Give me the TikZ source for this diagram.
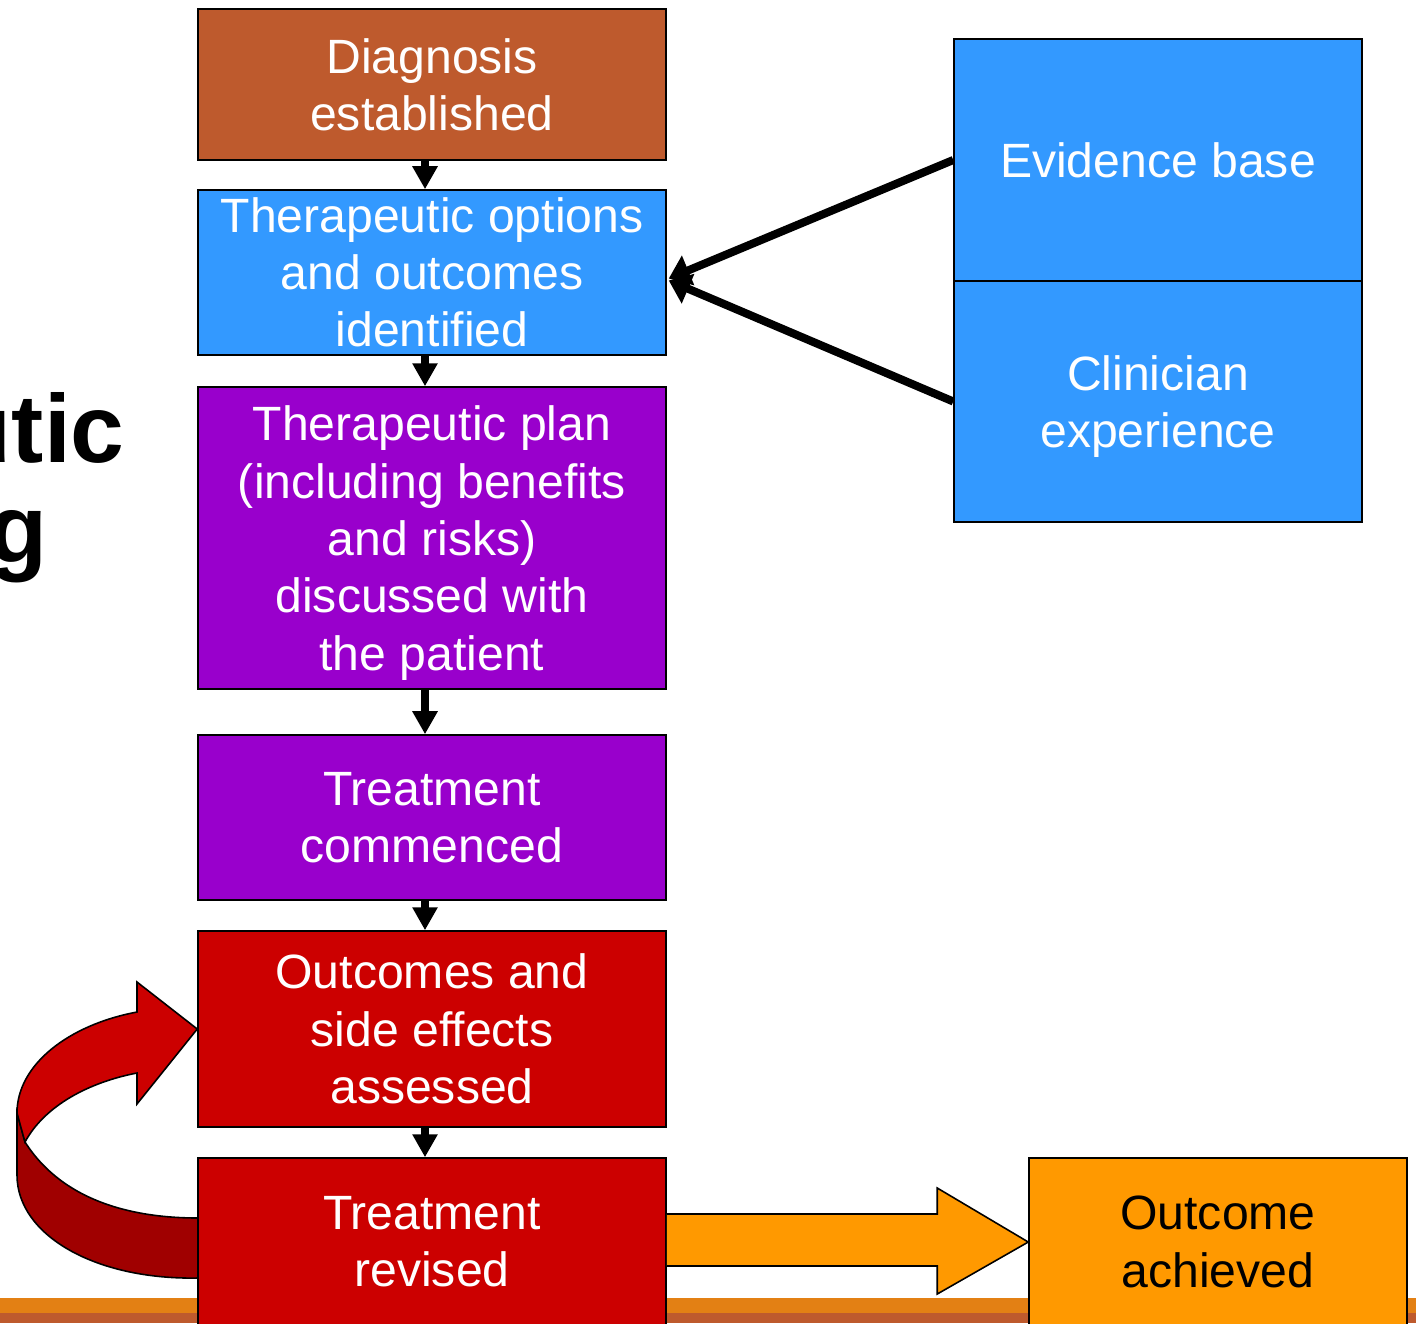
\documentclass[tikz,border=0pt]{standalone}
\usepackage{fontspec}
\setmainfont{Liberation Sans}
\usetikzlibrary{arrows.meta, positioning, calc}
\definecolor{diagcol}{RGB}{190,90,45}
\definecolor{bluecol}{RGB}{51,153,255}
\definecolor{purplecol}{RGB}{153,0,204}
\definecolor{redcol}{RGB}{204,0,0}
\definecolor{darkredcol}{RGB}{160,0,0}
\definecolor{orangecol}{RGB}{255,153,0}
\definecolor{barlight}{RGB}{227,128,20}
\definecolor{bardark}{RGB}{190,90,45}
\tikzset{
    stepbox/.style={rectangle, draw=black, line width=0.9pt, minimum width=9.36cm, inner sep=0pt, align=center, text=white, font=\fontsize{27.4}{32.6}\selectfont},
    sidebox/.style={stepbox, minimum width=8.16cm},
    downarrow/.style={-{Triangle[length=0.46cm,width=0.48cm]}, line width=5pt},
    feedarrow/.style={-{Triangle[length=0.42cm,width=0.62cm]}, line width=4.6pt},
    fatarrow/.style={draw=black, line width=0.9pt, line join=miter},
    titletext/.style={inner sep=0pt, font=\bfseries\fontsize{55}{100}\selectfont}
}

\begin{document}
\begin{tikzpicture}[x=0.02cm, y=-0.02cm]
    \useasboundingbox (0,0) rectangle (1416,1323);
    % Bottom bar
    \fill[barlight] (0,1298) rectangle (1416,1313);
    \fill[bardark] (0,1313) rectangle (1416,1323);

    % Title (cut at the left edge)
    \node[titletext, anchor=base east] (title1) at (125,462) {utic};
    \node[titletext, anchor=base west] (title2) at (-12,562) {g};

    % Main column
    \node[stepbox, fill=diagcol, minimum height=3.02cm] (diag) at (432,84.5) {Diagnosis\\established};
    \node[stepbox, fill=bluecol, minimum height=3.3cm] (opts) at (432,272.5) {Therapeutic options\\and outcomes\\identified};
    \node[stepbox, fill=purplecol, minimum height=6.04cm] (plan) at (432,538) {Therapeutic plan\\(including benefits\\and risks)\\discussed with\\\smash{the patient}};
    \node[stepbox, fill=purplecol, minimum height=3.3cm] (comm) at (432,817.5) {Treatment\\commenced};
    \node[stepbox, fill=redcol, minimum height=3.92cm] (assess) at (432,1029) {Outcomes and\\side effects\\assessed};

    % Loop back arrow
    \fill[darkredcol, draw=black, line width=0.9pt] (17,1113) -- (25,1142) .. controls (62,1200) and (130,1218) .. (198,1218) -- (198,1278) .. controls (95,1280) and (17,1235) .. (17,1175) -- cycle;
    \fill[redcol, draw=black, line width=0.9pt, line join=miter] (assess.west) -- (137,982) -- (137,1012) .. controls (68,1025) and (17,1065) .. (17,1113) -- (25,1142) .. controls (45,1105) and (90,1082) .. (137,1073) -- (137,1104) -- cycle;

    \node[stepbox, fill=redcol, minimum height=3.36cm] (revised) at (432,1242) {Treatment\\revised};

    % Right side
    \node[sidebox, fill=bluecol, minimum height=4.84cm] (evid) at (1158,160) {Evidence base};
    \node[sidebox, fill=bluecol, minimum height=4.82cm] (clin) at (1158,401.5) {Clinician\\\smash{experience}};
    \node[stepbox, fill=orangecol, text=black, minimum width=7.56cm, minimum height=3.36cm] (achieved) at (1218,1242) {Outcome\\achieved};

    % Flow arrows
    \draw[downarrow] ($(diag.south)+(-7,0)$) -- ($(opts.north)+(-7,0)$);
    \draw[downarrow] ($(opts.south)+(-7,0)$) -- ($(plan.north)+(-7,0)$);
    \draw[downarrow] ($(plan.south)+(-7,0)$) -- ($(comm.north)+(-7,0)$);
    \draw[downarrow] ($(comm.south)+(-7,0)$) -- ($(assess.north)+(-7,0)$);
    \draw[downarrow] ($(assess.south)+(-7,0)$) -- ($(revised.north)+(-7,0)$);

    % Inputs
    \draw[feedarrow] (evid.west) -- ($(opts.east)+(2,6)$);
    \draw[feedarrow] (clin.west) -- ($(opts.east)+(2,8)$);

    % Outcome arrow
    \fill[orangecol, fatarrow] ($(revised.east)+(0,-28)$) -- ($(achieved.west)+(-91,-28)$) -- ($(achieved.west)+(-91,-54)$) -- (achieved.west) -- ($(achieved.west)+(-91,52)$) -- ($(achieved.west)+(-91,24)$) -- ($(revised.east)+(0,24)$);
\end{tikzpicture}
\end{document}
